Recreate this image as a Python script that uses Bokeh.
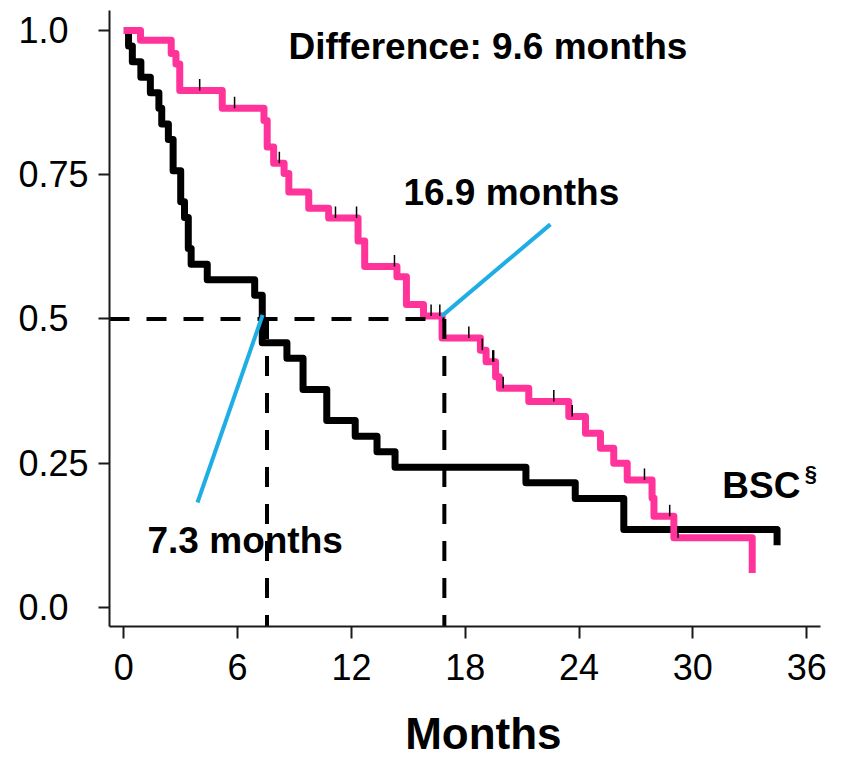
from bokeh.plotting import figure
from bokeh.models import Range1d, FixedTicker, Label
from bokeh.embed import file_html
from bokeh.resources import INLINE
import numpy as np

# ---------------- data ----------------
# BSC arm (black): time of each drop (months) and survival after it
bsc_time = [0, 0.25, 0.45, 0.9, 1.4, 1.85, 2.0, 2.35, 2.6, 3.0, 3.2, 3.4, 3.55,
            4.4, 6.9, 7.3, 8.6, 9.45, 10.7, 12.2, 13.35, 14.3, 21.2, 23.8, 26.36, 34.44]
bsc_surv = [1.0, 0.973, 0.946, 0.919, 0.892, 0.865, 0.838, 0.811, 0.757, 0.703, 0.676,
            0.622, 0.595, 0.568, 0.541, 0.459, 0.432, 0.378, 0.324, 0.297, 0.270,
            0.243, 0.216, 0.189, 0.135, 0.108]

# experimental arm (pink)
exp_time = [0, 0.88, 2.5, 2.75, 2.95, 5.19, 7.39, 7.56, 7.9, 8.45, 8.7, 9.75, 10.8,
            12.35, 12.7, 14.4, 14.9, 15.8, 16.78, 18.8, 19.1, 19.6, 19.8, 21.35,
            23.46, 24.34, 25.13, 25.83, 26.54, 27.85, 27.95, 29.0, 33.13]
exp_surv = [1.0, 0.983, 0.96, 0.942, 0.896, 0.865, 0.844, 0.798, 0.77, 0.752, 0.72,
            0.692, 0.675, 0.635, 0.591, 0.573, 0.525, 0.505, 0.467, 0.446, 0.426,
            0.40, 0.38, 0.357, 0.331, 0.302, 0.276, 0.25, 0.221, 0.19, 0.158, 0.121, 0.06]
# censoring times on the experimental arm
exp_censor = [4.0, 5.84, 8.2, 11.16, 12.27, 14.27, 16.2, 16.66, 18.19, 18.9, 19.45,
              19.5, 20.0, 22.67, 23.64, 27.45, 28.78, 29.22]

median_lines = [7.55, 16.9]        # where the dashed median lines are drawn
median_level = 0.5
median_labels = ["7.3 months", "16.9 months"]
difference_label = "Difference: 9.6 months"
bsc_label = "BSC"
bsc_sup = "§"

x_ticks = [0, 6, 12, 18, 24, 30, 36]
y_ticks = [0.0, 0.25, 0.5, 0.75, 1.0]
y_tick_labels = ["0.0", "0.25", "0.5", "0.75", "1.0"]
x_title = "Months"

# ---------------- style ----------------
PINK = "#FF3399"
BLUE = "#1EAEE4"
FONT = "Liberation Sans"
X_START, X_END = -0.754, 36.73
Y_START, Y_END = -0.0329, 1.0346
NBSP = "\u00a0"

p = figure(width=838, height=760, output_backend="svg", toolbar_location=None,
           x_range=Range1d(X_START, X_END), y_range=Range1d(Y_START, Y_END),
           min_border_left=109, min_border_right=18, min_border_top=10,
           min_border_bottom=133)
p.outline_line_color = None
p.xgrid.visible = False
p.ygrid.visible = False
p.background_fill_color = "white"

for ax in (p.xaxis[0], p.yaxis[0]):
    ax.axis_line_width = 2
    ax.axis_line_color = "#1a1a1a"
    ax.major_tick_line_width = 2
    ax.major_tick_line_color = "#1a1a1a"
    ax.major_tick_in = 0
    ax.minor_tick_line_color = None

p.xaxis.ticker = FixedTicker(ticks=x_ticks)
p.xaxis.major_tick_out = 12
p.xaxis.major_label_standoff = 15
p.xaxis.major_label_text_font = FONT
p.xaxis.major_label_text_font_size = "36px"
p.xaxis.major_label_text_color = "black"

# x axis title, nudged right of the frame centre as in the reference
p.xaxis.axis_label = NBSP * 3 + x_title
p.xaxis.axis_label_standoff = 26
p.xaxis.axis_label_text_font = FONT
p.xaxis.axis_label_text_font_size = "44px"
p.xaxis.axis_label_text_font_style = "bold"
p.xaxis.axis_label_text_color = "black"

# y tick labels: padded so that they line up on the left as in the reference
longest = max(len(s) for s in y_tick_labels)
p.yaxis.ticker = FixedTicker(ticks=y_ticks)
p.yaxis.major_tick_out = 11
p.yaxis.major_label_standoff = 10
p.yaxis.major_label_text_font = FONT
p.yaxis.major_label_text_font_size = "36px"
p.yaxis.major_label_text_color = "black"
p.yaxis.major_label_overrides = {
    t: s + NBSP * (2 * (longest - len(s))) for t, s in zip(y_ticks, y_tick_labels)
}

# survival curves
p.step(bsc_time, bsc_surv, mode="after", line_color="black", line_width=7,
       line_join="round")
p.step(exp_time, exp_surv, mode="after", line_color=PINK, line_width=7,
       line_join="round")

# censor marks on experimental arm
et = np.array(exp_time)
es = np.array(exp_surv)
idx = np.searchsorted(et, np.array(exp_censor), side="right") - 1
cv = es[idx]
p.segment(x0=exp_censor, y0=cv, x1=exp_censor, y1=cv + 0.02,
          line_color="black", line_width=1.5)

# median dashed lines
p.segment(x0=[X_START], y0=[median_level], x1=[max(median_lines)], y1=[median_level],
          line_color="black", line_width=4, line_dash="20 17")
p.segment(x0=median_lines, y0=[median_level] * 2, x1=median_lines,
          y1=[Y_START] * 2, line_color="black", line_width=4, line_dash="20 17")

# blue pointer lines
p.segment(x0=[16.76, 7.32], y0=[0.505, 0.507], x1=[22.49, 3.885], y1=[0.664, 0.182],
          line_color=BLUE, line_width=4)

# annotations
def bold_label(x, y, text, size="37px", baseline="alphabetic"):
    p.add_layout(Label(x=x, y=y, text=text, text_font=FONT, text_font_size=size,
                       text_font_style="bold", text_color="black",
                       text_baseline=baseline))

bold_label(8.68, 0.972, difference_label)
bold_label(14.74, 0.7195, median_labels[1])
bold_label(1.25, 0.116, median_labels[0])
bold_label(31.55, 0.211, bsc_label)
bold_label(35.9, 0.232, bsc_sup, size="22px", baseline="middle")

open("out.html", "w").write(file_html(p, INLINE))
